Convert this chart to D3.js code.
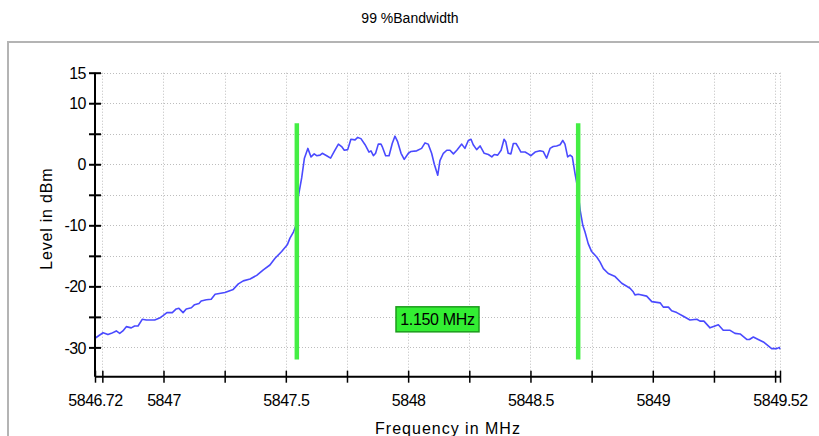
<!DOCTYPE html>
<html><head><meta charset="utf-8">
<script src="https://cdn.jsdelivr.net/npm/d3@7"></script>
<style>
body{margin:0;background:#fff;}
svg text{font-family:"Liberation Sans",Arial,sans-serif;fill:#000;}
</style></head><body>
<svg id="c" width="819" height="436"></svg>
<script>
const title = "99 %Bandwidth";
const xTitle = "Frequency in MHz";
const yTitle = "Level in dBm";
const xDomain = [5846.72, 5849.52];
const yDomain = [-34.8, 15];
const xTickValues = [5846.72,5846.75,5847,5847.25,5847.5,5847.75,5848,5848.25,5848.5,5848.75,5849,5849.25,5849.5,5849.52];
const xTickLabels = [5846.72,5847,5847.5,5848,5848.5,5849,5849.52];
const yTickValues = [-30,-25,-20,-15,-10,-5,0,5,10,15];
const yTickLabels = [-30,-20,-10,0,10,15];
const markerFreqs = [5847.545, 5848.695];
const markerLevels = [6.7, -32.0];
const bandwidthLabel = "1.150 MHz";
const labelLevel = -25.4;

const freq = [5846.720,5846.753,5846.773,5846.787,5846.807,5846.821,5846.834,5846.848,5846.868,5846.882,5846.896,5846.913,5846.930,5846.964,5846.984,5846.998,5847.014,5847.036,5847.052,5847.063,5847.080,5847.093,5847.114,5847.127,5847.145,5847.154,5847.175,5847.195,
5847.211,5847.251,5847.285,5847.306,5847.326,5847.354,5847.381,5847.408,5847.435,5847.456,5847.483,5847.506,5847.517,5847.531,5847.542,5847.551,5847.565,
5847.576,5847.590,5847.603,5847.616,5847.626,5847.640,5847.649,5847.667,5847.683,5847.698,5847.715,5847.728,5847.739,5847.753,5847.766,5847.783,5847.794,5847.807,5847.824,5847.840,5847.848,5847.858,5847.867,5847.878,5847.889,5847.894,5847.908,5847.922,5847.935,5847.946,5847.957,5847.971,5847.984,5848.001,5848.012,5848.035,5848.055,5848.069,5848.082,5848.096,5848.107,5848.121,5848.130,
5848.144,5848.158,5848.171,5848.185,5848.199,5848.219,5848.232,5848.246,5848.257,5848.266,5848.280,5848.294,5848.311,5848.328,5848.342,5848.352,5848.366,5848.380,5848.392,5848.399,5848.409,5848.420,5848.430,5848.441,5848.450,5848.461,5848.478,5848.491,5848.502,5848.519,5848.539,5848.552,5848.566,5848.580,5848.593,5848.607,5848.621,5848.632,5848.641,5848.652,5848.662,5848.671,
5848.682,5848.692,5848.703,5848.714,5848.723,5848.736,5848.750,5848.771,5848.784,5848.798,5848.818,5848.846,5848.873,5848.907,5848.920,5848.927,5848.941,5848.975,5848.996,5849.030,5849.043,5849.064,5849.077,5849.098,5849.125,5849.152,5849.180,5849.193,5849.209,5849.234,5849.254,5849.268,5849.288,5849.316,5849.336,5849.357,5849.384,5849.395,5849.411,5849.431,5849.452,5849.486,5849.507,5849.517,5849.520];
const level = [-28.5,-27.6,-27.9,-27.7,-27.3,-27.7,-27.3,-26.6,-26.8,-26.5,-26.5,-25.4,-25.5,-25.5,-25.2,-24.8,-24.3,-24.3,-23.7,-23.6,-24.3,-23.7,-23.5,-23.0,-22.8,-22.4,-22.2,-22.1,
-21.3,-21.0,-20.5,-19.6,-19.1,-18.8,-18.2,-17.3,-16.5,-15.4,-14.3,-13.2,-12.1,-11.1,-10.0,-5.3,-2.2,
1.0,2.6,1.2,1.7,1.4,1.5,1.8,1.4,1.0,2.1,3.3,2.9,2.3,2.4,4.1,4.0,4.4,4.2,3.2,2.0,2.2,1.4,1.8,3.3,3.3,2.9,1.4,1.4,3.4,4.6,3.7,1.8,0.8,1.8,2.1,2.2,2.6,3.5,3.3,1.8,0.0,-1.8,0.6,
1.8,2.3,2.3,1.7,2.3,3.3,2.6,3.9,4.1,3.2,2.4,3.0,1.8,1.6,1.2,1.6,1.5,2.3,4.1,3.7,1.8,1.7,3.4,3.4,2.8,2.0,2.0,1.7,1.4,2.0,2.2,2.1,1.0,2.6,2.9,3.0,3.2,3.9,3.3,1.2,1.5,1.2,
-1.5,-3.7,-7.5,-10.0,-11.1,-13.0,-14.3,-15.2,-16.0,-17.1,-17.9,-18.4,-19.5,-20.3,-20.9,-21.4,-21.3,-21.6,-22.5,-22.7,-23.4,-23.4,-24.0,-24.3,-24.9,-25.5,-25.4,-25.7,-25.7,-26.8,-26.5,-26.3,-27.2,-27.2,-27.7,-27.8,-28.7,-28.7,-28.3,-28.7,-29.1,-30.2,-30.2,-30.0,-30.3];

const svg = d3.select("#c");
const x = d3.scaleLinear().domain(xDomain).range([95, 780]);
const y = d3.scaleLinear().domain(yDomain).range([376.7, 72.7]);

// panel frame
svg.append("path").attr("d","M8,436 V42 H819").attr("fill","none").attr("stroke","#b4b4b4").attr("stroke-width",2);

// title
svg.append("text").attr("x",410).attr("y",23).attr("text-anchor","middle").style("font-size","14px").text(title);

// grid
const grid = svg.append("g").attr("stroke","#bdbdbd").attr("stroke-width",1).attr("stroke-dasharray","1,2");
grid.selectAll(".gh").data(yTickValues).join("line")
  .attr("x1",x(xDomain[0])).attr("x2",x(xDomain[1]))
  .attr("y1",d=>Math.round(y(d))+0.5).attr("y2",d=>Math.round(y(d))+0.5);
grid.selectAll(".gv").data(xTickValues.slice(1)).join("line")
  .attr("x1",d=>Math.round(x(d))+0.5).attr("x2",d=>Math.round(x(d))+0.5)
  .attr("y1",y(yDomain[1])).attr("y2",y(yDomain[0]));

// data line
const line = d3.line().x((d,i)=>x(freq[i])).y(d=>y(d));
svg.append("path").datum(level).attr("d",line).attr("fill","none")
  .attr("stroke","#4a4aff").attr("stroke-width",1.6).attr("stroke-linejoin","round");

// markers
svg.selectAll(".mk").data(markerFreqs).join("line")
  .attr("x1",d=>x(d)).attr("x2",d=>x(d))
  .attr("y1",y(markerLevels[0])).attr("y2",y(markerLevels[1]))
  .attr("stroke","#44ee44").attr("stroke-width",4.5);

// axes
const yAxis = d3.axisLeft(y).tickValues(yTickValues).tickSize(6).tickPadding(3)
  .tickFormat(d=>yTickLabels.includes(d)?String(d):"");
const gy = svg.append("g").attr("transform","translate(95,0)").call(yAxis);
gy.select(".domain").attr("d",`M0,${y(yDomain[1])}V${y(yDomain[0])}`).attr("stroke","#000").attr("stroke-width",2);
gy.selectAll(".tick line").attr("x1",6).attr("stroke","#000").attr("stroke-width",2);
gy.selectAll(".tick text").style("font-size","16px").style("letter-spacing","-0.5px").attr("dy","0.35em");

const xAxis = d3.axisBottom(x).tickValues(xTickValues).tickSize(6).tickPadding(12)
  .tickFormat(d=>xTickLabels.includes(d)?String(d):"");
const gx = svg.append("g").attr("transform",`translate(0,${y(yDomain[0])})`).call(xAxis);
gx.select(".domain").attr("d",`M${x(xDomain[0])},0H${x(xDomain[1])}`).attr("stroke","#000").attr("stroke-width",2);
gx.selectAll(".tick line").attr("y1",-6).attr("stroke","#000").attr("stroke-width",1.5);
gx.selectAll(".tick text").style("font-size","16px").style("letter-spacing","-0.5px");

// axis titles
svg.append("text").attr("transform",`translate(52,${(y(yDomain[0])+y(yDomain[1]))/2-6}) rotate(-90)`)
  .attr("text-anchor","middle").style("font-size","16px").style("letter-spacing","0.8px").text(yTitle);
svg.append("text").attr("x",448).attr("y",434).attr("text-anchor","middle")
  .style("font-size","16px").style("letter-spacing","1px").text(xTitle);

// bandwidth label
const cx = x((markerFreqs[0]+markerFreqs[1])/2), cy = y(labelLevel);
svg.append("rect").attr("x",cx-41.5).attr("y",cy-12.5).attr("width",83).attr("height",25)
  .attr("fill","#33ee33").attr("stroke","#1c9c1c").attr("stroke-width",1.5);
svg.append("text").attr("x",cx).attr("y",cy).attr("dy","0.36em").attr("text-anchor","middle")
  .style("font-size","16px").style("letter-spacing","-0.3px").text(bandwidthLabel);
</script></body></html>
